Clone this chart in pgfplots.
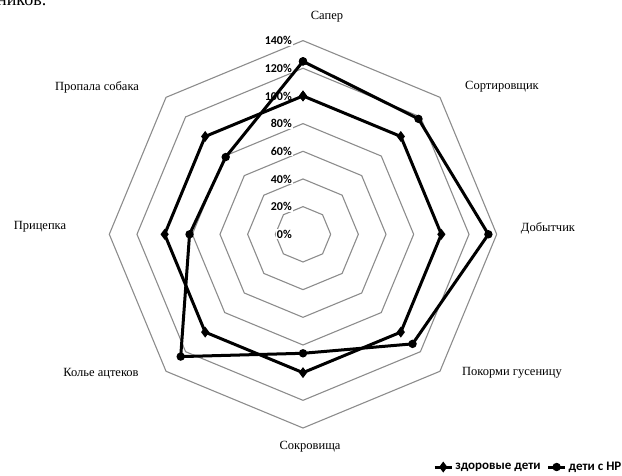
\documentclass[border=0pt]{standalone}
\usepackage{fontspec}
\setmainfont{Liberation Serif}
\newfontfamily\calibri{Carlito}
\usepackage{pgfplots}
\pgfplotsset{compat=1.18}
\usepgfplotslibrary{polar}
\begin{document}
\begin{tikzpicture}
\useasboundingbox (0pt,0pt) rectangle (622pt,475pt);
\node[anchor=base west, inner sep=0pt, font=\fontsize{18}{20}\selectfont] at (-3pt,469pt) {ников.};
\begin{polaraxis}[
  at={(303pt,240.7pt)}, anchor=origin,
  scale only axis, width=387.4pt, height=387.4pt,
  xmin=0, xmax=360, ymin=0, ymax=140,
  hide axis, clip=false,
  legend style={at={(axis description cs:0.8356,-0.1007)}, anchor=west, draw=none, fill=none,
    font=\calibri\bfseries\fontsize{13}{15}\selectfont, inner sep=0pt,
    /tikz/every even column/.append style={column sep=4pt}},
  legend columns=2,
]
% grid octagons
\addplot[black!45, line width=1.1pt, forget plot] coordinates {(0,20)(45,20)(90,20)(135,20)(180,20)(225,20)(270,20)(315,20)(360,20)};
\addplot[black!45, line width=1.1pt, forget plot] coordinates {(0,40)(45,40)(90,40)(135,40)(180,40)(225,40)(270,40)(315,40)(360,40)};
\addplot[black!45, line width=1.1pt, forget plot] coordinates {(0,60)(45,60)(90,60)(135,60)(180,60)(225,60)(270,60)(315,60)(360,60)};
\addplot[black!45, line width=1.1pt, forget plot] coordinates {(0,80)(45,80)(90,80)(135,80)(180,80)(225,80)(270,80)(315,80)(360,80)};
\addplot[black!45, line width=1.1pt, forget plot] coordinates {(0,100)(45,100)(90,100)(135,100)(180,100)(225,100)(270,100)(315,100)(360,100)};
\addplot[black!45, line width=1.1pt, forget plot] coordinates {(0,120)(45,120)(90,120)(135,120)(180,120)(225,120)(270,120)(315,120)(360,120)};
\addplot[black!45, line width=1.1pt, forget plot] coordinates {(0,140)(45,140)(90,140)(135,140)(180,140)(225,140)(270,140)(315,140)(360,140)};
% tick labels
\foreach \r in {0,20,...,140} {
  \edef\tmp{\noexpand\node[anchor=east, fill=white, inner sep=1pt, font=\noexpand\calibri\noexpand\bfseries\noexpand\fontsize{12}{13}\noexpand\selectfont] at (axis cs:90,\r) [xshift=-10pt] {\r\noexpand\%};}
  \tmp
}
% series: здоровые дети
\addplot[black, line width=3pt, mark=diamond*, mark size=3pt, mark options={solid}] coordinates {
  (90,100) (45,100) (0,100) (315,100) (270,100) (225,100) (180,100) (135,100) (90,100)};
\addlegendentry{здоровые дети}
% series: дети с НР
\addplot[black, line width=3pt, mark=*, mark size=2.6pt, mark options={solid}] coordinates {
  (90,125) (45,118) (0,134) (315,112) (270,86) (225,125) (180,82) (135,79) (90,125)};
\addlegendentry{дети с НР}
\end{polaraxis}
\begin{scope}[font=\fontsize{12.5}{14}\selectfont]
\node at (327pt,458pt) {Сапер};
\node at (502pt,388pt) {Сортировщик};
\node at (548pt,247pt) {Добытчик};
\node at (512pt,102pt) {Покорми гусеницу};
\node at (310pt,28pt) {Сокровища};
\node at (101pt,101pt) {Колье ацтеков};
\node at (40pt,248pt) {Прицепка};
\node at (97pt,388pt) {Пропала собака};
\end{scope}
\end{tikzpicture}
\end{document}
